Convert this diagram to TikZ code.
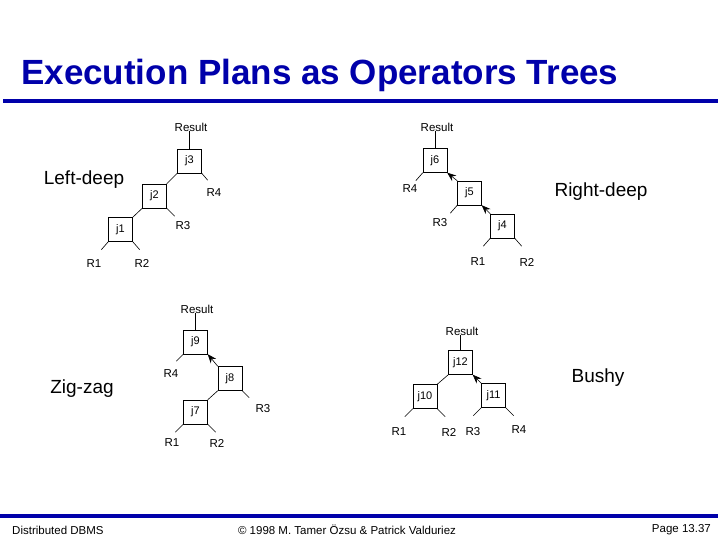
\documentclass[tikz,border=0pt]{standalone}
\usepackage{fontspec}
\setmainfont{Liberation Sans}
\usetikzlibrary{arrows.meta}
\definecolor{ttl}{RGB}{0,0,170}
\begin{document}
\begin{tikzpicture}[x=1pt,y=-1pt,
  box/.style={draw,minimum size=24pt,inner sep=0pt,font=\fontsize{11}{13}\selectfont},
  lbl/.style={inner sep=0pt,font=\fontsize{11.5}{13}\selectfont},
  big/.style={inner sep=0pt,font=\fontsize{19}{22}\selectfont},
  ln/.style={line width=0.6pt},
  ar/.style={line width=0.6pt,-{Stealth[length=9pt,width=7pt]}}]
\useasboundingbox (0,0) rectangle (720,540);
\node[inner sep=0pt,anchor=west,font=\fontsize{35}{40}\selectfont\bfseries,text=ttl] (title) at (21,75) {Execution Plans as Operators Trees};
\draw[ttl,line width=4pt] (3,101) coordinate (t1) -- (718,101) coordinate (t2);
\draw[ttl,line width=4pt] (0,516) coordinate (b1) -- (718,516) coordinate (b2);
\node[lbl,anchor=west] (f1) at (12,530) {Distributed DBMS};
\node[lbl] (f2) at (347,530) {© 1998 M. Tamer Özsu \& Patrick Valduriez};
\node[lbl,anchor=east] (f3) at (711,530) {Page 13.37};
\node[big] (ld) at (84,180) {Left-deep};
\node[big] (rd) at (601,192) {Right-deep};
\node[big] (zz) at (82,389) {Zig-zag};
\node[big] (bu) at (598,378) {Bushy};
% Left-deep
\node[box] (j3) at (189.5,161) {j3};
\node[box] (j2) at (154.5,196) {j2};
\node[box] (j1) at (120.5,229.5) {j1};
\node[lbl] (r0) at (191,127) {Result};
\node[lbl] (a4) at (214,193) {R4};
\node[lbl] (a3) at (183,226) {R3};
\node[lbl] (a1) at (94,264) {R1};
\node[lbl] (a2) at (142,263) {R2};
\draw[ln] (j3.north) -- (j3.north |- r0.south);
\draw[ln] (j1.north east) -- (j2.south west);
\draw[ln] (j2.north east) -- (j3.south west);
\draw[ln] (j3.south east) -- ++(6,7) coordinate (c1);
\draw[ln] (j2.south east) -- ++(8,8) coordinate (c2);
\draw[ln] (j1.south west) -- ++(-7,8) coordinate (c3);
\draw[ln] (j1.south east) -- ++(7,8) coordinate (c4);
% Right-deep
\node[box] (j6) at (435,160.5) {j6};
\node[box] (j5) at (469.5,193) {j5};
\node[box] (j4) at (502.5,226) {j4};
\node[lbl] (r1) at (437,127) {Result};
\node[lbl] (b4) at (410,189) {R4};
\node[lbl] (b3) at (440,223) {R3};
\node[lbl] (b1l) at (478,262) {R1};
\node[lbl] (b2l) at (527,262) {R2};
\draw[ln] (j6.north) -- (j6.north |- r1.south);
\draw[ar] (j5.north west) -- (j6.south east);
\draw[ar] (j4.north west) -- (j5.south east);
\draw[ln] (j6.south west) -- ++(-7,8) coordinate (d1);
\draw[ln] (j5.south west) -- ++(-7,8) coordinate (d2);
\draw[ln] (j4.south west) -- ++(-7,8) coordinate (d3);
\draw[ln] (j4.south east) -- ++(7,8) coordinate (d4);
% Zig-zag
\node[box] (j9) at (195.5,342) {j9};
\node[box] (j8) at (230,378.5) {j8};
\node[box] (j7) at (195.5,412) {j7};
\node[lbl] (r2) at (197,309) {Result};
\node[lbl] (z4) at (171,374) {R4};
\node[lbl] (z3) at (263,409) {R3};
\node[lbl] (z1) at (172,443) {R1};
\node[lbl] (z2) at (217,443) {R2};
\draw[ln] (j9.north) -- (j9.north |- r2.south);
\draw[ar] (j8.north west) -- (j9.south east);
\draw[ln] (j7.north east) -- (j8.south west);
\draw[ln] (j9.south west) -- ++(-7,7) coordinate (e1);
\draw[ln] (j8.south east) -- ++(7,7) coordinate (e2);
\draw[ln] (j7.south west) -- ++(-8,8) coordinate (e3);
\draw[ln] (j7.south east) -- ++(8,8) coordinate (e4);
% Bushy
\node[box] (j12) at (460.5,362.5) {j12};
\node[box] (j10) at (425,396.5) {j10};
\node[box] (j11) at (493.5,395.5) {j11};
\node[lbl] (r3) at (462,331) {Result};
\node[lbl] (y1) at (399,432) {R1};
\node[lbl] (y2) at (449,432) {R2};
\node[lbl] (y3) at (473,432) {R3};
\node[lbl] (y4) at (519,430) {R4};
\draw[ln] (j12.north) -- (j12.north |- r3.south);
\draw[ln] (j10.north east) -- (j12.south west);
\draw[ar] (j11.north west) -- (j12.south east);
\draw[ln] (j10.south west) -- ++(-8,8) coordinate (g1);
\draw[ln] (j10.south east) -- ++(8,8) coordinate (g2);
\draw[ln] (j11.south west) -- ++(-8,8) coordinate (g3);
\draw[ln] (j11.south east) -- ++(8,8) coordinate (g4);
\end{tikzpicture}
\end{document}
